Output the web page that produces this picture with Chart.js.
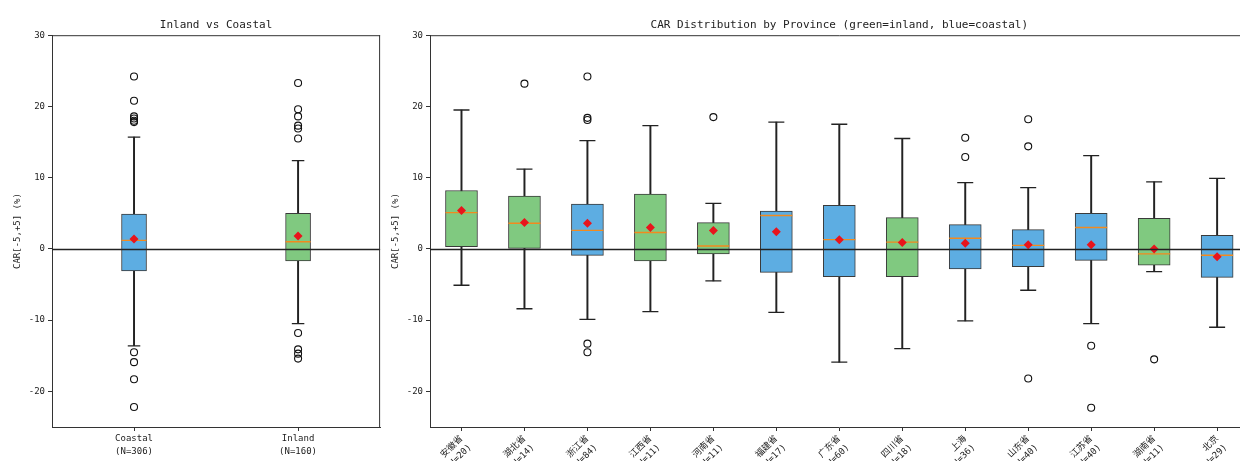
<!DOCTYPE html>
<html lang="zh">
<head>
<meta charset="UTF-8">
<title>CAR Distribution</title>
<script src="https://cdn.jsdelivr.net/npm/chart.js"></script>
<style>
  body { margin: 0; background: #fff; overflow: hidden; }
  .panel { position: absolute; top: 0; height: 461px; }
</style>
</head>
<body>
<div class="panel" style="left:0; width:394px;"><canvas id="groupChart"></canvas></div>
<div class="panel" style="left:380px; width:886px;"><canvas id="provChart"></canvas></div>

<script>
// --- data ---
const yTicks = [-20, -10, 0, 10, 20, 30];

// left panel: coastal vs inland
const groupLabels = ['Coastal', 'Inland'];
const groupN = [306, 160];
const groupLow = [-13.6, -10.5];
const groupQ1 = [-3.1, -1.7];
const groupMedian = [1.2, 1.0];
const groupQ3 = [4.9, 5.0];
const groupHigh = [15.7, 12.4];
const groupMean = [1.4, 1.8];
const groupOutliers = [
  [24.2, 20.8, 18.6, 18.3, 18.0, 17.8, -14.5, -15.9, -18.3, -22.2],
  [23.3, 19.6, 18.6, 17.3, 16.9, 15.5, -11.8, -14.1, -14.7, -15.4]
];
const groupCoastal = [1, 0];

// right panel: by province
const provinces = ['安徽省', '湖北省', '浙江省', '江西省', '河南省', '福建省', '广东省', '四川省', '上海', '山东省', '江苏省', '湖南省', '北京'];
const provN = [20, 14, 84, 11, 11, 17, 60, 18, 36, 40, 40, 11, 29];
const provCoastal = [0, 0, 1, 0, 0, 1, 1, 0, 1, 1, 1, 0, 1];
const provLow = [-5.1, -8.4, -9.9, -8.8, -4.5, -8.9, -15.9, -14.0, -10.1, -5.8, -10.5, -3.2, -11.0];
const provQ1 = [0.3, 0.0, -0.9, -1.7, -0.7, -3.3, -3.9, -3.9, -2.8, -2.5, -1.6, -2.3, -4.0];
const provMedian = [5.1, 3.6, 2.6, 2.3, 0.4, 4.7, 1.3, 0.95, 1.5, 0.5, 3.0, -0.7, -0.9];
const provQ3 = [8.2, 7.4, 6.3, 7.7, 3.7, 5.3, 6.1, 4.4, 3.4, 2.7, 5.0, 4.3, 1.9];
const provHigh = [19.5, 11.2, 15.2, 17.3, 6.4, 17.8, 17.5, 15.5, 9.3, 8.6, 13.1, 9.4, 9.9];
const provMean = [5.4, 3.7, 3.6, 3.0, 2.6, 2.4, 1.3, 0.9, 0.8, 0.6, 0.6, 0.0, -1.1];
const provOutliers = [
  [], [23.2], [24.2, 18.4, 18.1, -13.3, -14.5], [], [18.5], [], [], [],
  [15.6, 12.9], [18.2, 14.4, -18.2], [-13.6, -22.3], [-15.5], []
];

const BLUE = '#5dade2';
const GREEN = '#80c980';

Chart.defaults.font.family = '"DejaVu Sans Mono", "Noto Sans CJK SC", monospace';
Chart.defaults.color = '#222';
Chart.defaults.animation = false;

// box the plot like matplotlib spines, plus the y=0 reference line
const framePlugin = {
  id: 'frame',
  afterDatasetsDraw(chart) {
    const { ctx, chartArea: a, scales } = chart;
    const y0 = Math.round(scales.y.getPixelForValue(0)) + 0.5;
    ctx.save();
    ctx.strokeStyle = '#222';
    ctx.lineWidth = 1.3;
    ctx.beginPath();
    ctx.moveTo(a.left, y0);
    ctx.lineTo(a.right, y0);
    ctx.stroke();
    ctx.restore();
  },
  afterDraw(chart) {
    const { ctx, chartArea: a } = chart;
    ctx.save();
    ctx.strokeStyle = '#333';
    ctx.lineWidth = 1;
    ctx.beginPath();
    ctx.moveTo(a.left, a.top + 0.5);
    ctx.lineTo(a.right, a.top + 0.5);
    ctx.moveTo(a.right - 0.5, a.top);
    ctx.lineTo(a.right - 0.5, a.bottom);
    ctx.stroke();
    ctx.restore();
  }
};

function boxDatasets(labels, low, q1, med, q3, high, mean, outliers, coastal, boxW) {
  const pts = [];
  outliers.forEach((arr, i) => arr.forEach(v => pts.push({ x: labels[i], y: v })));
  const fills = coastal.map(c => c ? BLUE : GREEN);
  return [
    { type: 'line', data: mean, showLine: false, pointStyle: 'rectRot', pointRadius: 4.5,
      pointBackgroundColor: '#e8141c', pointBorderColor: '#e8141c', pointBorderWidth: 0 },
    { type: 'line', data: med, showLine: false, pointStyle: 'line', pointRadius: boxW / 2,
      pointBorderColor: '#f28a1e', pointBorderWidth: 1.4 },
    { type: 'line', data: pts, showLine: false, pointStyle: 'circle', pointRadius: 3.5,
      pointBackgroundColor: 'rgba(0,0,0,0)', pointBorderColor: '#111', pointBorderWidth: 1.1 },
    { type: 'line', data: high, showLine: false, pointStyle: 'line', pointRadius: boxW / 4,
      pointBorderColor: '#222', pointBorderWidth: 1.3 },
    { type: 'line', data: low, showLine: false, pointStyle: 'line', pointRadius: boxW / 4,
      pointBorderColor: '#222', pointBorderWidth: 1.3 },
    { type: 'bar', data: q1.map((v, i) => [v, q3[i]]), backgroundColor: fills,
      borderColor: '#3a3a3a', borderWidth: 1, borderSkipped: false, barThickness: boxW, grouped: false },
    { type: 'bar', data: low.map((v, i) => [v, high[i]]), backgroundColor: '#222',
      barThickness: 1.3, grouped: false }
  ];
}

function makeOptions(title, labels, ns, yWidth, yTitlePad, rotation, padRight) {
  return {
    responsive: true,
    maintainAspectRatio: false,
    layout: { padding: { left: 0, right: padRight, top: 0, bottom: 0 } },
    plugins: {
      legend: { display: false },
      tooltip: { enabled: false },
      title: {
        display: true, text: title, fullSize: false,
        font: { size: 11, weight: 'normal' }, color: '#222',
        padding: { top: 19, bottom: 3 }
      }
    },
    scales: {
      x: {
        type: 'category',
        offset: true,
        grid: { offset: false, drawOnChartArea: false, tickLength: 4, color: '#333' },
        border: { color: '#333' },
        ticks: {
          autoSkip: false,
          minRotation: rotation, maxRotation: rotation,
          padding: 2,
          font: { size: 9, lineHeight: 1.35 },
          color: '#222',
          callback: (v, i) => [labels[i], '(N=' + ns[i] + ')']
        },
        afterFit: s => { s.height = 34; s.paddingLeft = 0; s.paddingRight = 0; }
      },
      y: {
        min: -25, max: 30,
        afterBuildTicks: s => { s.ticks = yTicks.map(v => ({ value: v })); },
        grid: { drawOnChartArea: false, color: '#333', tickLength: 4 },
        border: { color: '#333' },
        ticks: { font: { size: 9 }, padding: 3, color: '#222' },
        title: {
          display: true, text: 'CAR[-5,+5] (%)',
          font: { size: 9 }, color: '#222',
          padding: { top: yTitlePad, bottom: 0 }
        },
        afterFit: s => { s.width = yWidth; }
      }
    }
  };
}

new Chart(document.getElementById('groupChart'), {
  type: 'bar',
  data: {
    labels: groupLabels,
    datasets: boxDatasets(groupLabels, groupLow, groupQ1, groupMedian, groupQ3, groupHigh,
      groupMean, groupOutliers, groupCoastal, 25)
  },
  options: makeOptions('Inland vs Coastal', groupLabels, groupN, 52, 12, 0, 1),
  plugins: [framePlugin]
});

new Chart(document.getElementById('provChart'), {
  type: 'bar',
  data: {
    labels: provinces,
    datasets: boxDatasets(provinces, provLow, provQ1, provMedian, provQ3, provHigh,
      provMean, provOutliers, provCoastal, 32)
  },
  options: makeOptions('CAR Distribution by Province (green=inland, blue=coastal)',
    provinces, provN, 50, 10.5, 45, 12),
  plugins: [framePlugin]
});
</script>
</body>
</html>
